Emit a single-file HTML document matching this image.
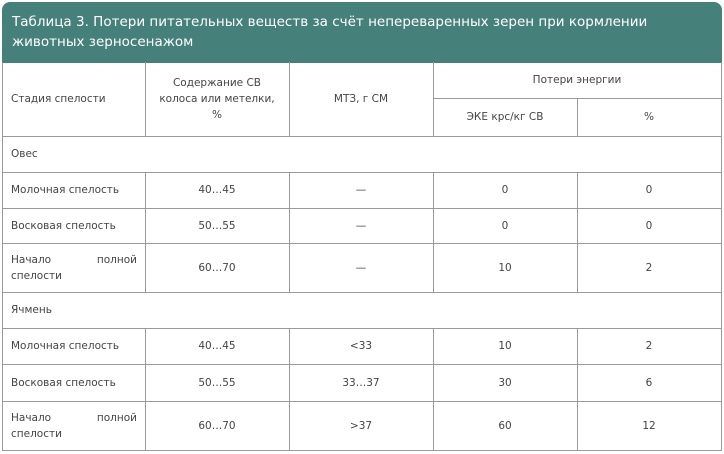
<!DOCTYPE html>
<html><head><meta charset="utf-8"><style>
*{margin:0;padding:0;box-sizing:border-box}
body{width:724px;height:454px;background:#fff;position:relative;overflow:hidden;font-family:"DejaVu Sans","Liberation Sans",sans-serif;color:#444;font-size:10.5px}
.hd{position:absolute;left:2px;top:2px;width:720px;height:61px;background:#46807b;border-radius:8px 8px 0 0;color:#fff;font-size:13.5px;line-height:20px;padding:10px 0 0 10px}
.h{position:absolute;height:1px;background:#9a9a9a}
.v{position:absolute;width:1px;background:#9a9a9a}
.t{position:absolute;display:flex;align-items:center;line-height:16px}
.c{justify-content:center;text-align:center}
.l{padding-left:9px}
.j{text-align:justify;text-align-last:left;padding:0 8px 0 9px}
</style></head><body>
<div class="hd">Таблица 3. Потери питательных веществ за счёт непереваренных зерен при кормлении<br>животных зерносенажом</div>
<div class="v" style="left:2px;top:62px;height:389px"></div>
<div class="v" style="left:721px;top:62px;height:389px"></div>
<div class="v" style="left:145px;top:62px;height:74px"></div>
<div class="v" style="left:289px;top:62px;height:74px"></div>
<div class="v" style="left:433px;top:62px;height:74px"></div>
<div class="v" style="left:577px;top:98px;height:38px"></div>
<div class="h" style="left:433px;top:98px;width:289px"></div>
<div class="h" style="left:2px;top:136px;width:720px"></div>
<div class="h" style="left:2px;top:172px;width:720px"></div>
<div class="h" style="left:2px;top:208px;width:720px"></div>
<div class="h" style="left:2px;top:243px;width:720px"></div>
<div class="h" style="left:2px;top:292px;width:720px"></div>
<div class="h" style="left:2px;top:328px;width:720px"></div>
<div class="h" style="left:2px;top:364px;width:720px"></div>
<div class="h" style="left:2px;top:401px;width:720px"></div>
<div class="h" style="left:2px;top:450px;width:720px"></div>
<div class="v" style="left:145px;top:172px;height:120px"></div>
<div class="v" style="left:289px;top:172px;height:120px"></div>
<div class="v" style="left:433px;top:172px;height:120px"></div>
<div class="v" style="left:577px;top:172px;height:120px"></div>
<div class="v" style="left:145px;top:328px;height:122px"></div>
<div class="v" style="left:289px;top:328px;height:122px"></div>
<div class="v" style="left:433px;top:328px;height:122px"></div>
<div class="v" style="left:577px;top:328px;height:122px"></div>

<div class="t l" style="left:2px;top:62px;width:143px;height:74px">Стадия спелости</div>
<div class="t c" style="left:145px;top:62px;width:144px;height:74px">Содержание СВ<br>колоса или метелки,<br>%</div>
<div class="t c" style="left:289px;top:62px;width:144px;height:74px">МТЗ, г СМ</div>
<div class="t c" style="left:433px;top:62px;width:288px;height:36px">Потери энергии</div>
<div class="t c" style="left:433px;top:98px;width:144px;height:38px">ЭКЕ крс/кг СВ</div>
<div class="t c" style="left:577px;top:98px;width:144px;height:38px">%</div>

<div class="t l" style="left:2px;top:136px;width:300px;height:36px">Овес</div>
<div class="t l" style="left:2px;top:172px;width:143px;height:36px">Молочная спелость</div>
<div class="t c" style="left:145px;top:172px;width:144px;height:36px">40…45</div>
<div class="t c" style="left:289px;top:172px;width:144px;height:36px">—</div>
<div class="t c" style="left:433px;top:172px;width:144px;height:36px">0</div>
<div class="t c" style="left:577px;top:172px;width:144px;height:36px">0</div>
<div class="t l" style="left:2px;top:208px;width:143px;height:35px">Восковая спелость</div>
<div class="t c" style="left:145px;top:208px;width:144px;height:35px">50…55</div>
<div class="t c" style="left:289px;top:208px;width:144px;height:35px">—</div>
<div class="t c" style="left:433px;top:208px;width:144px;height:35px">0</div>
<div class="t c" style="left:577px;top:208px;width:144px;height:35px">0</div>
<div class="t" style="left:2px;top:243px;width:143px;height:49px"><div class="j" style="width:143px">Начало полной спелости</div></div>
<div class="t c" style="left:145px;top:243px;width:144px;height:49px">60…70</div>
<div class="t c" style="left:289px;top:243px;width:144px;height:49px">—</div>
<div class="t c" style="left:433px;top:243px;width:144px;height:49px">10</div>
<div class="t c" style="left:577px;top:243px;width:144px;height:49px">2</div>

<div class="t l" style="left:2px;top:292px;width:300px;height:36px">Ячмень</div>
<div class="t l" style="left:2px;top:328px;width:143px;height:36px">Молочная спелость</div>
<div class="t c" style="left:145px;top:328px;width:144px;height:36px">40…45</div>
<div class="t c" style="left:289px;top:328px;width:144px;height:36px">&lt;33</div>
<div class="t c" style="left:433px;top:328px;width:144px;height:36px">10</div>
<div class="t c" style="left:577px;top:328px;width:144px;height:36px">2</div>
<div class="t l" style="left:2px;top:364px;width:143px;height:37px">Восковая спелость</div>
<div class="t c" style="left:145px;top:364px;width:144px;height:37px">50…55</div>
<div class="t c" style="left:289px;top:364px;width:144px;height:37px">33…37</div>
<div class="t c" style="left:433px;top:364px;width:144px;height:37px">30</div>
<div class="t c" style="left:577px;top:364px;width:144px;height:37px">6</div>
<div class="t" style="left:2px;top:401px;width:143px;height:49px"><div class="j" style="width:143px">Начало полной спелости</div></div>
<div class="t c" style="left:145px;top:401px;width:144px;height:49px">60…70</div>
<div class="t c" style="left:289px;top:401px;width:144px;height:49px">&gt;37</div>
<div class="t c" style="left:433px;top:401px;width:144px;height:49px">60</div>
<div class="t c" style="left:577px;top:401px;width:144px;height:49px">12</div>
</body></html>
